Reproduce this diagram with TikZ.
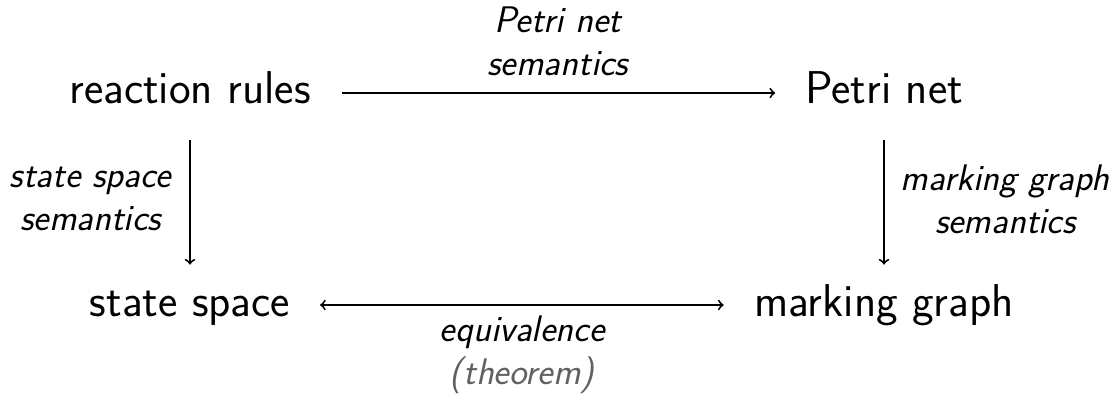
\documentclass[tikz,border=0pt]{standalone}
\usepackage{fontspec}
\begin{document}
\begin{tikzpicture}[x=0.5pt,y=-0.5pt,
  obj/.style={font=\fontsize{23}{28}\selectfont\sffamily, text height=16.3pt, text depth=5.3pt, inner sep=0pt},
  lbl/.style={font=\fontsize{18.5}{21.5}\selectfont\sffamily\itshape, align=center, inner sep=0pt},
  arr/.style={->, line width=0.95pt},
  thm/.style={text=black!62}]
\useasboundingbox (0,0) rectangle (1116,396);
\node[obj] (rr) at (190,93) {reaction rules};
\node[obj] (pn) at (884,93) {Petri net};
\node[obj] (ss) at (190,305) {state space};
\node[obj] (mg) at (884,305) {marking graph};
\draw[arr, shorten <=15.5pt, shorten >=14.75pt] (rr.east) -- node[lbl, above=8pt] {Petri net\\semantics} (pn.west);
\draw[arr, shorten <=12.7pt, shorten >=9.2pt] (rr.south) -- node[lbl, left=9pt] {state space\\semantics} (ss.north);
\draw[arr, shorten <=12.7pt, shorten >=9.2pt] (pn.south) -- node[lbl, right=8pt] {marking graph\\semantics} (mg.north);
\draw[arr, <->, shorten <=14.75pt, shorten >=15pt] (ss.east) -- node[lbl, below=5pt] {equivalence\\{\color{black!62}(theorem)}} (mg.west);
\end{tikzpicture}
\end{document}
